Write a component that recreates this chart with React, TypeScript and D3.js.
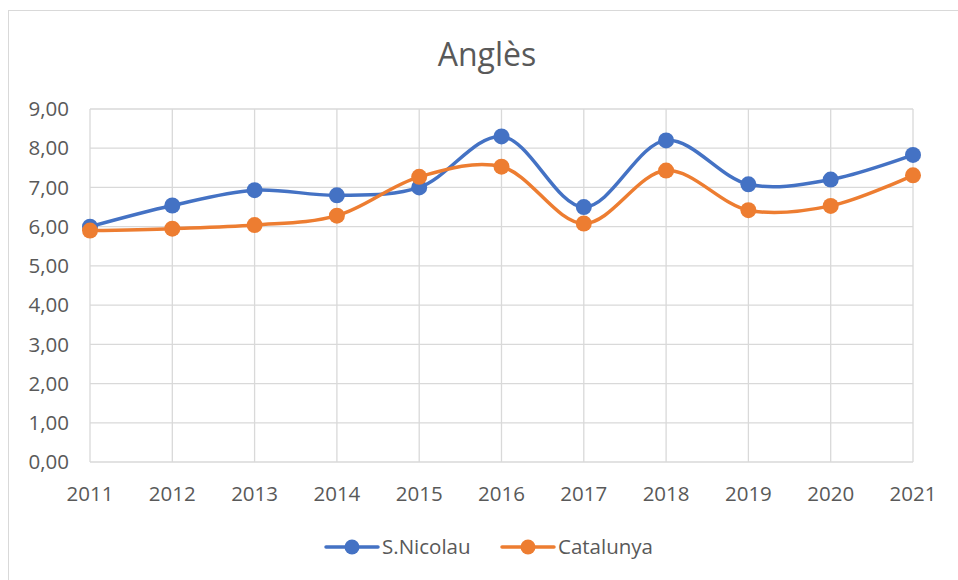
import React from "react";
import * as d3 from "d3";

const years = ["2011", "2012", "2013", "2014", "2015", "2016", "2017", "2018", "2019", "2020", "2021"];
const sNicolau = [6.0, 6.54, 6.93, 6.8, 7.0, 8.3, 6.5, 8.2, 7.08, 7.2, 7.83];
const catalunya = [5.9, 5.95, 6.04, 6.28, 7.27, 7.53, 6.08, 7.43, 6.42, 6.53, 7.31];
const yTicks = [0, 1, 2, 3, 4, 5, 6, 7, 8, 9];
const title = "Anglès";
const seriesNames = ["S.Nicolau", "Catalunya"];
const colors = ["#4472C4", "#ED7D31"];

const W = 958;
const H = 580;
const FONT = "'Open Sans', sans-serif";

export default function App() {
  const x = d3.scalePoint<string>().domain(years).range([90, 913]);
  const y = d3.scaleLinear().domain([0, 9]).range([462, 109]);
  const line = d3
    .line<number>()
    .x((_, i) => x(years[i]) as number)
    .y((d) => y(d))
    .curve(d3.curveCatmullRom.alpha(0.5));
  const series = [sNicolau, catalunya];
  const fmt = (v: number) => v.toFixed(2).replace(".", ",");

  return (
    <svg
      width={W}
      height={H}
      style={{ position: "absolute", left: 0, top: 0, background: "#fff" }}
      fontFamily={FONT}
    >
      <rect x={8.5} y={10.5} width={W} height={H} fill="#fff" stroke="#d9d9d9" strokeWidth={1} />
      <text x={487} y={66} textAnchor="middle" fontSize={32} fill="#595959">
        {title}
      </text>
      {yTicks.map((t) => (
        <g key={t}>
          <line x1={90} x2={913} y1={y(t)} y2={y(t)} stroke="#d9d9d9" strokeWidth={1.3} />
          <text x={69} y={y(t)} dy="0.35em" textAnchor="end" fontSize={20.5} fill="#595959">
            {fmt(t)}
          </text>
        </g>
      ))}
      {years.map((yr) => (
        <g key={yr}>
          <line x1={x(yr)} x2={x(yr)} y1={y(0)} y2={y(9)} stroke="#d9d9d9" strokeWidth={1.3} />
          <text x={x(yr)} y={494} dy="0.35em" textAnchor="middle" fontSize={20.5} fill="#595959">
            {yr}
          </text>
        </g>
      ))}
      {series.map((s, si) => (
        <g key={si}>
          <path d={line(s) || ""} fill="none" stroke={colors[si]} strokeWidth={3.5} strokeLinecap="round" />
          {s.map((v, i) => (
            <circle key={i} cx={x(years[i])} cy={y(v)} r={8} fill={colors[si]} />
          ))}
        </g>
      ))}
      {seriesNames.map((n, i) => {
        const lx = i === 0 ? 326 : 502;
        return (
          <g key={n}>
            <line x1={lx} x2={lx + 52} y1={547} y2={547} stroke={colors[i]} strokeWidth={3.5} strokeLinecap="round" />
            <circle cx={lx + 26} cy={547} r={7.5} fill={colors[i]} />
            <text x={lx + 56} y={547} dy="0.35em" fontSize={20.5} fill="#595959">
              {n}
            </text>
          </g>
        );
      })}
    </svg>
  );
}
